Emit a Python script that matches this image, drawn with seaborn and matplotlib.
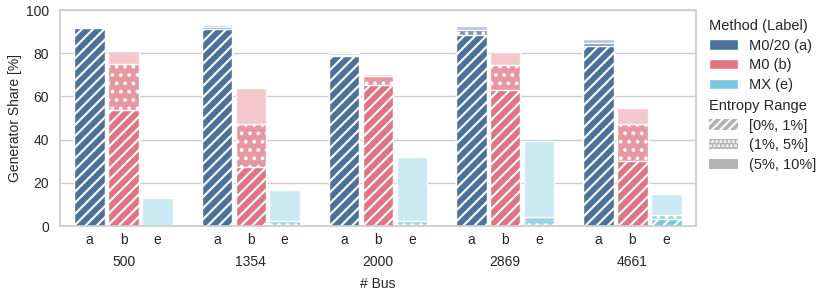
import numpy as np
import pandas as pd
import seaborn as sns
import matplotlib.pyplot as plt
from matplotlib.patches import Patch
from matplotlib.colors import to_rgb

# Categories
buses = ['500', '1354', '2000', '2869', '4661']
methods = ['M0/20 (a)', 'M0 (b)', 'MX (e)']
short = ['a', 'b', 'e']
ranges = ['[0%, 1%]', '(1%, 5%]', '(5%, 10%]']

# Generator share [%] per entropy range, one list per method
a_low = [91.5, 91.2, 78.7, 88.4, 83.3]
a_mid = [0.4, 0.7, 0.5, 2.3, 1.5]
a_high = [0.6, 1.0, 1.0, 1.9, 1.6]

b_low = [53.6, 27.3, 65.2, 62.9, 29.9]
b_mid = [21.2, 19.8, 4.3, 11.6, 17.5]
b_high = [6.2, 17.0, 0.8, 5.9, 7.4]

e_low = [0.0, 0.4, 0.4, 0.3, 3.3]
e_mid = [0.0, 2.1, 2.1, 3.8, 1.9]
e_high = [12.9, 14.3, 29.4, 35.1, 9.7]

colors = ['#4c729b', '#e07480', '#7ac7e0']

# Build long table with cumulative heights
rows = []
for m, low, mid, high in zip(methods, [a_low, b_low, e_low], [a_mid, b_mid, e_mid], [a_high, b_high, e_high]):
    for bus, l, md, h in zip(buses, low, mid, high):
        rows.append({'bus': bus, 'method': m, 'upto1': l, 'upto5': l + md, 'total': l + md + h})
df = pd.DataFrame(rows)


def mix(c, alpha):
    # blend colour with white (opaque version of an alpha fill)
    r = np.array(to_rgb(c))
    return tuple(alpha * r + (1 - alpha) * np.ones(3))


FS = 10
sns.set_theme(style='whitegrid')
plt.rcParams['font.family'] = ['Liberation Sans', 'DejaVu Sans']
plt.rcParams['font.size'] = FS
plt.rcParams['hatch.linewidth'] = 1.5
plt.rcParams['hatch.color'] = 'white'

fig, ax = plt.subplots(figsize=(8.21, 2.95), dpi=100)
fig.subplots_adjust(left=60 / 821, right=696 / 821, top=1 - 10 / 295, bottom=1 - 226 / 295)

# draw from the tallest stack down so each layer covers the one below
layers = [('total', 0.4, ''), ('upto5', 0.75, '..'), ('upto1', 1.0, '///')]
for col, alpha, hatch in layers:
    pal = [mix(c, alpha) for c in colors]
    sns.barplot(data=df, x='bus', y=col, hue='method', hue_order=methods, order=buses,
                palette=pal, saturation=1, gap=0.1, errorbar=None, edgecolor='white',
                linewidth=1, hatch=hatch, legend=False, ax=ax)

# x ticks: method letters under bars, bus size under groups
offsets = (np.arange(3) - 1) * 0.8 / 3
pos = [g + o for g in range(len(buses)) for o in offsets]
ax.xaxis.remove_overlapping_locs = False
ax.set_xticks(pos, short * len(buses))
ax.set_xticks(range(len(buses)), buses, minor=True)
ax.tick_params(axis='x', which='major', pad=5, length=0, labelsize=FS)
ax.tick_params(axis='x', which='minor', pad=21, length=0, labelsize=FS)
ax.tick_params(axis='y', pad=8, length=0, labelsize=FS)
ax.set_xlim(-0.5, 4.5)
ax.set_ylim(0, 100)
ax.set_yticks([0, 20, 40, 60, 80, 100])
ax.grid(axis='x', visible=False)
ax.set_xlabel('# Bus', fontsize=FS, labelpad=6)
ax.set_ylabel('Generator Share [%]', fontsize=FS, labelpad=3)

# legends
LFS = 10.5
h1 = [Patch(facecolor=c, edgecolor='white', label=m) for c, m in zip(colors, methods)]
leg1 = ax.legend(handles=h1, title='Method (Label)', loc='upper left', bbox_to_anchor=(1.0, 1.02),
                 frameon=False, alignment='left', fontsize=LFS, title_fontsize=LFS,
                 labelspacing=0.4, handletextpad=0.7)
ax.add_artist(leg1)

gray = '#b3b3b3'
h2 = [Patch(facecolor=gray, edgecolor='white', linewidth=0, hatch=h, label=r)
      for h, r in zip(['////', '....', ''], ranges)]
ax.legend(handles=h2, title='Entropy Range', loc='upper left', bbox_to_anchor=(1.0, 0.65),
          frameon=False, alignment='left', fontsize=LFS, title_fontsize=LFS,
          labelspacing=0.4, handletextpad=0.7)

plt.savefig('out.png', dpi=100)
